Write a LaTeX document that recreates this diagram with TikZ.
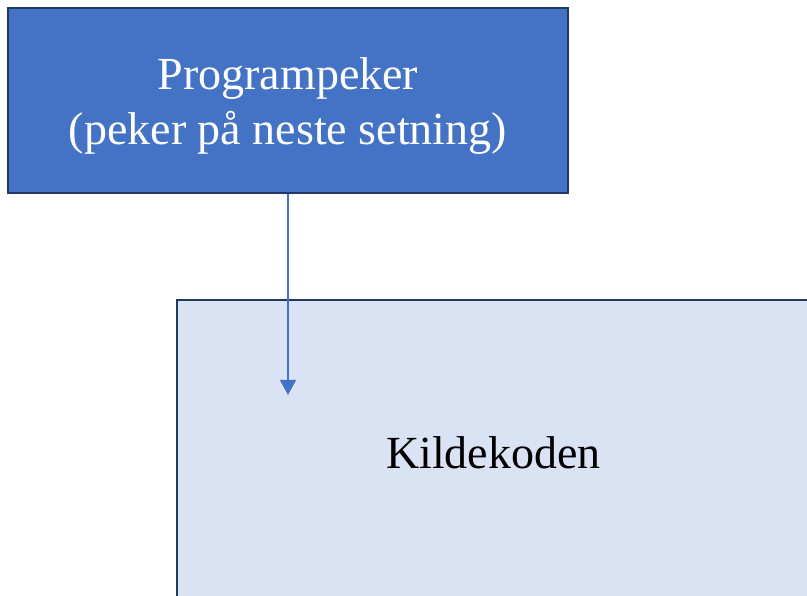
\documentclass[tikz,border=0pt]{standalone}
\usepackage{fontspec}
\setmainfont{Liberation Serif}
\usetikzlibrary{arrows.meta}

\definecolor{accentblue}{HTML}{4472C4}
\definecolor{paleblue}{HTML}{DAE3F3}
\definecolor{navyline}{HTML}{1F3864}

\tikzset{
  box/.style={draw=navyline, line width=2.5pt, rectangle, inner sep=0pt},
  caption/.style={inner sep=0pt, align=center, font=\fontsize{46}{55}\selectfont},
  pointer/.style={draw=accentblue, line width=1.3pt,
    -{Triangle[width=16pt,length=15pt]}, fill=accentblue},
}

\begin{document}
\begin{tikzpicture}[x=1pt,y=-1pt]
  \useasboundingbox (0,0) rectangle (807,596);
  \clip (0,0) rectangle (807,596);

  % source code area, running past the right and bottom edges
  \node[box, fill=paleblue, minimum width=633pt, minimum height=306pt]
    (src) at (493.5,453) {};
  \node[caption, text=black] (srctext) at (493.5,453) {Kildekoden};

  % program counter box
  \node[box, fill=accentblue, minimum width=560pt, minimum height=185pt]
    (pc) at (288,100.5) {};
  \node[caption, text=white] (pctext) at (288,106)
    {Programpeker\\(peker på neste setning)};

  % where the pointer points inside the source
  \coordinate (line) at (288,395);
  \draw[pointer] (pc.south) -- (line);
\end{tikzpicture}
\end{document}
